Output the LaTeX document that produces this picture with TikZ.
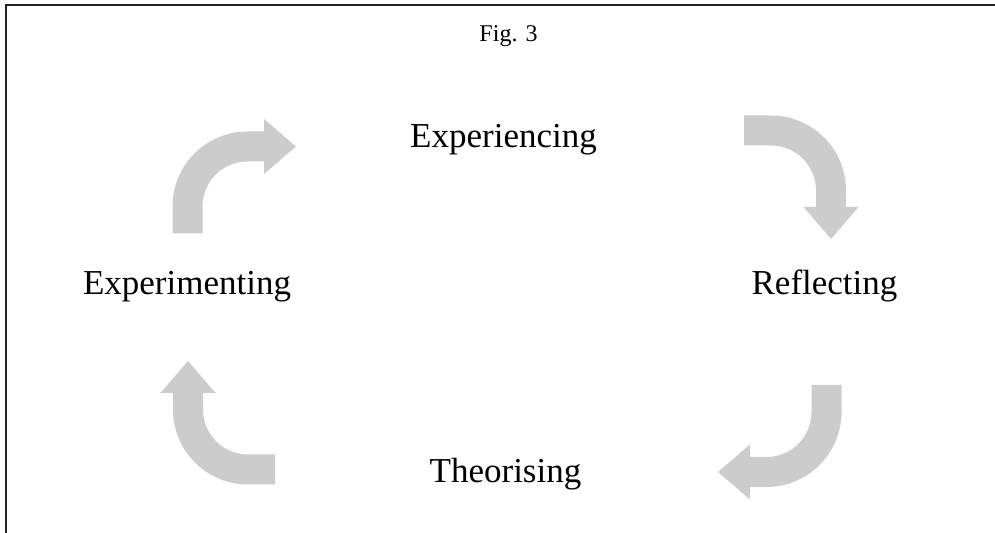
\documentclass[tikz,border=0pt]{standalone}
\usepackage{fontspec}
\setmainfont{Liberation Serif}
\usepackage{xcolor}
\definecolor{arrowgray}{HTML}{CCCCCC}
\definecolor{framegray}{HTML}{222222}
\tikzset{
    cyclearrow/.pic={
        \fill[arrowgray] (-75,-27) -- (-75,0) arc[start angle=180,end angle=90,radius=75]
            -- (16.5,75) -- (16.5,87.5) -- (48.5,60) -- (16.5,32.5) -- (16.5,45) -- (0,45)
            arc[start angle=90,end angle=180,radius=45] -- (-45,-27) -- cycle;
    },
    stage/.style={anchor=base,font=\fontsize{17.5}{21}\selectfont},
    figlabel/.style={anchor=base,font=\fontsize{12}{14}\selectfont}
}

\begin{document}
\begin{tikzpicture}[x=0.5pt,y=0.5pt]
    \useasboundingbox (0,0) rectangle (995,-533);
    \draw[framegray,line width=0.75pt] (995,-5) -- (6,-5) -- (6,-533);
    \node[figlabel] (fig) at (508.5,-42) {Fig. 3};
    \pic at (247.5,-206.5) {cyclearrow};
    \pic[rotate=-90] at (771,-190.5) {cyclearrow};
    \pic[rotate=180] at (766.5,-412) {cyclearrow};
    \pic[rotate=90] at (248,-409.5) {cyclearrow};
    \node[stage] (experiencing) at (503.5,-148) {Experiencing};
    \node[stage] (reflecting) at (824.5,-295) {Reflecting};
    \node[stage] (theorising) at (505.5,-483) {Theorising};
    \node[stage] (experimenting) at (187,-295) {Experimenting};
\end{tikzpicture}
\end{document}
